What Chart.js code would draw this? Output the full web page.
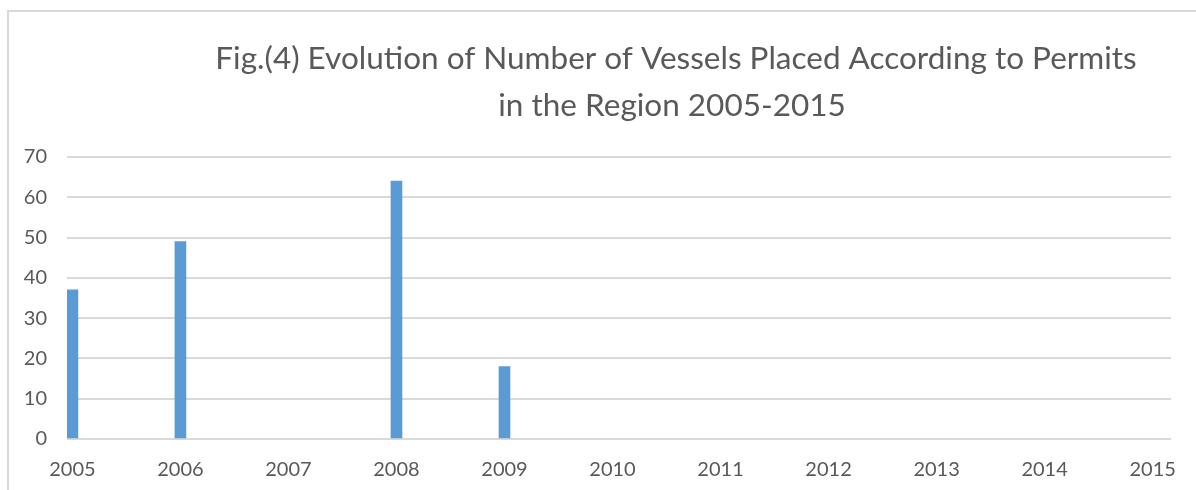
<!DOCTYPE html>
<html>
<head>
  <title>Fig.(4) Evolution of Number of Vessels</title>
  <script src="https://cdn.jsdelivr.net/npm/chart.js"></script>
  <style>
    body { margin: 0; background: #fff; }
    #wrap { position: relative; width: 1196px; height: 490px; }
    #frame {
      position: absolute; left: 7px; top: 10px; right: 0; bottom: 0;
      border-top: 2px solid #d9d9d9; border-left: 2px solid #d9d9d9;
      pointer-events: none;
    }
  </style>
</head>
<body>

<div id="wrap">
  <canvas id="myChart" width="1196" height="490"></canvas>
  <div id="frame"></div>
</div>

<script>
  // Дані графіка
  const years = [2005, 2006, 2007, 2008, 2009, 2010, 2011, 2012, 2013, 2014, 2015];
  const vessels = [37, 49, null, 64, 18, null, null, null, null, null, null];
  const titleLines = [
    'Fig.(4) Evolution of Number of Vessels Placed According to Permits',
    'in the Region 2005-2015'
  ];

  const textColor = '#595959';
  const gridColor = '#d9d9d9';

  // Заголовок малюємо самі, бо він зсунутий праворуч
  const titlePlugin = {
    id: 'sideTitle',
    afterDraw(chart) {
      const ctx = chart.ctx;
      ctx.save();
      ctx.font = '31.5px Lato';
      ctx.fillStyle = textColor;
      ctx.textAlign = 'center';
      ctx.textBaseline = 'alphabetic';
      ctx.fillText(titleLines[0], 676, 69);
      ctx.fillText(titleLines[1], 672, 116);
      ctx.restore();
    }
  };

  const ctx = document.getElementById('myChart').getContext('2d');

  const myChart = new Chart(ctx, {
    type: 'bar',
    data: {
      datasets: [{
        label: 'Vessels',
        data: years.map((y, i) => ({ x: y, y: vessels[i] })),
        backgroundColor: '#5B9BD5',
        barThickness: 11,
      }]
    },
    options: {
      responsive: false,
      animation: false,
      devicePixelRatio: 1,
      layout: { padding: { left: 0, right: 25, top: 157, bottom: 0 } },
      plugins: {
        legend: { display: false },
        title: { display: false },
        tooltip: { enabled: false }
      },
      scales: {
        x: {
          type: 'linear',
          offset: false,
          min: 2004.95,
          max: 2015.17,
          afterBuildTicks: (scale) => { scale.ticks = years.map(v => ({ value: v })); },
          afterFit: (scale) => { scale.height = 51; },
          grid: { display: false, drawTicks: false },
          border: { display: false },
          ticks: {
            color: textColor,
            font: { family: 'Lato', size: 20 },
            padding: 19,
            maxRotation: 0,
            autoSkip: false,
            callback: (v) => String(v)
          }
        },
        y: {
          min: 0,
          max: 70,
          afterFit: (scale) => { scale.width = 67; },
          grid: { color: gridColor, lineWidth: 2, drawTicks: false },
          border: { display: false },
          ticks: {
            stepSize: 10,
            color: textColor,
            font: { family: 'Lato', size: 20 },
            padding: 20
          }
        }
      }
    },
    plugins: [titlePlugin]
  });
</script>

</body>
</html>
